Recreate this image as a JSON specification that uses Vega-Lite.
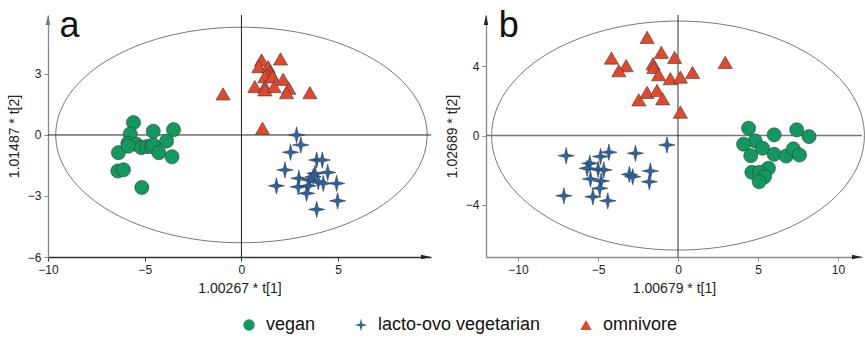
{
"$schema": "https://vega.github.io/schema/vega-lite/v6.json",
"background": "white",
"padding": {"left": 7, "top": 7, "right": 0, "bottom": 0},
"config": {
  "font": "Liberation Sans",
  "view": {"stroke": null},
  "axis": {"grid": false, "labelFont": "Liberation Sans", "labelFontSize": 12, "labelColor": "#222", "titleFont": "Liberation Sans", "titleFontSize": 14, "titleFontWeight": "normal", "titleColor": "#222", "tickSize": 4, "tickColor": "#555", "domainWidth": 1.3, "labelFlush": false, "labelPadding": 3, "titlePadding": 6}
},
"datasets": {
  "ellA": [
    {"i":0,"x":9.6,"y":0},{"i":1,"x":9.454,"y":0.92},{"i":2,"x":9.021,"y":1.813},{"i":3,"x":8.314,"y":2.65},{"i":4,"x":7.354,"y":3.407},{"i":5,"x":6.171,"y":4.06},{"i":6,"x":4.8,"y":4.59},{"i":7,"x":3.283,"y":4.98},{"i":8,"x":1.667,"y":5.219},{"i":9,"x":0,"y":5.3},
    {"i":10,"x":-1.667,"y":5.219},{"i":11,"x":-3.283,"y":4.98},{"i":12,"x":-4.8,"y":4.59},{"i":13,"x":-6.171,"y":4.06},{"i":14,"x":-7.354,"y":3.407},{"i":15,"x":-8.314,"y":2.65},{"i":16,"x":-9.021,"y":1.813},{"i":17,"x":-9.454,"y":0.92},{"i":18,"x":-9.6,"y":0},
    {"i":19,"x":-9.454,"y":-0.92},{"i":20,"x":-9.021,"y":-1.813},{"i":21,"x":-8.314,"y":-2.65},{"i":22,"x":-7.354,"y":-3.407},{"i":23,"x":-6.171,"y":-4.06},{"i":24,"x":-4.8,"y":-4.59},{"i":25,"x":-3.283,"y":-4.98},{"i":26,"x":-1.667,"y":-5.219},{"i":27,"x":0,"y":-5.3},
    {"i":28,"x":1.667,"y":-5.219},{"i":29,"x":3.283,"y":-4.98},{"i":30,"x":4.8,"y":-4.59},{"i":31,"x":6.171,"y":-4.06},{"i":32,"x":7.354,"y":-3.407},{"i":33,"x":8.314,"y":-2.65},{"i":34,"x":9.021,"y":-1.813},{"i":35,"x":9.454,"y":-0.92}
  ],
  "ellB": [
    {"i":0,"x":11.65,"y":0},{"i":1,"x":11.473,"y":1.146},{"i":2,"x":10.948,"y":2.257},{"i":3,"x":10.089,"y":3.3},{"i":4,"x":8.924,"y":4.242},{"i":5,"x":7.489,"y":5.056},{"i":6,"x":5.825,"y":5.716},{"i":7,"x":3.984,"y":6.202},{"i":8,"x":2.023,"y":6.5},{"i":9,"x":0,"y":6.6},
    {"i":10,"x":-2.023,"y":6.5},{"i":11,"x":-3.984,"y":6.202},{"i":12,"x":-5.825,"y":5.716},{"i":13,"x":-7.489,"y":5.056},{"i":14,"x":-8.924,"y":4.242},{"i":15,"x":-10.089,"y":3.3},{"i":16,"x":-10.948,"y":2.257},{"i":17,"x":-11.473,"y":1.146},{"i":18,"x":-11.65,"y":0},
    {"i":19,"x":-11.473,"y":-1.146},{"i":20,"x":-10.948,"y":-2.257},{"i":21,"x":-10.089,"y":-3.3},{"i":22,"x":-8.924,"y":-4.242},{"i":23,"x":-7.489,"y":-5.056},{"i":24,"x":-5.825,"y":-5.716},{"i":25,"x":-3.984,"y":-6.202},{"i":26,"x":-2.023,"y":-6.5},{"i":27,"x":0,"y":-6.6},
    {"i":28,"x":2.023,"y":-6.5},{"i":29,"x":3.984,"y":-6.202},{"i":30,"x":5.825,"y":-5.716},{"i":31,"x":7.489,"y":-5.056},{"i":32,"x":8.924,"y":-4.242},{"i":33,"x":10.089,"y":-3.3},{"i":34,"x":10.948,"y":-2.257},{"i":35,"x":11.473,"y":-1.146}
  ],
  "ptsA": [
    {"group":"vegan","x":-5.58,"y":0.61},{"group":"vegan","x":-5.75,"y":0.05},{"group":"vegan","x":-4.56,"y":0.18},{"group":"vegan","x":-3.51,"y":0.26},{"group":"vegan","x":-3.87,"y":-0.3},{"group":"vegan","x":-5.87,"y":-0.41},{"group":"vegan","x":-5.44,"y":-0.46},{"group":"vegan","x":-5.18,"y":-0.62},{"group":"vegan","x":-4.89,"y":-0.57},{"group":"vegan","x":-4.66,"y":-0.57},{"group":"vegan","x":-4.56,"y":-0.49},{"group":"vegan","x":-4.27,"y":-0.87},{"group":"vegan","x":-3.59,"y":-1.07},{"group":"vegan","x":-6.36,"y":-0.87},{"group":"vegan","x":-6.39,"y":-1.77},{"group":"vegan","x":-6.1,"y":-1.71},{"group":"vegan","x":-5.15,"y":-2.58},{"group":"vegan","x":-5.85,"y":-0.55},
    {"group":"lacto-ovo vegetarian","x":2.85,"y":0},{"group":"lacto-ovo vegetarian","x":3.07,"y":-0.49},{"group":"lacto-ovo vegetarian","x":2.54,"y":-0.85},{"group":"lacto-ovo vegetarian","x":3.89,"y":-1.23},{"group":"lacto-ovo vegetarian","x":4.18,"y":-1.23},{"group":"lacto-ovo vegetarian","x":2.25,"y":-1.72},{"group":"lacto-ovo vegetarian","x":4.46,"y":-1.84},{"group":"lacto-ovo vegetarian","x":3.8,"y":-1.89},{"group":"lacto-ovo vegetarian","x":3.71,"y":-2.05},{"group":"lacto-ovo vegetarian","x":2.97,"y":-2.13},{"group":"lacto-ovo vegetarian","x":3.54,"y":-2.22},{"group":"lacto-ovo vegetarian","x":3.97,"y":-2.3},{"group":"lacto-ovo vegetarian","x":4.23,"y":-2.38},{"group":"lacto-ovo vegetarian","x":4.92,"y":-2.38},{"group":"lacto-ovo vegetarian","x":1.81,"y":-2.5},{"group":"lacto-ovo vegetarian","x":2.94,"y":-2.55},{"group":"lacto-ovo vegetarian","x":3.45,"y":-2.5},{"group":"lacto-ovo vegetarian","x":3.37,"y":-2.87},{"group":"lacto-ovo vegetarian","x":4.97,"y":-3.24},{"group":"lacto-ovo vegetarian","x":3.89,"y":-3.66},
    {"group":"omnivore","x":1.04,"y":3.69},{"group":"omnivore","x":2.02,"y":3.74},{"group":"omnivore","x":0.9,"y":3.36},{"group":"omnivore","x":1.38,"y":3.36},{"group":"omnivore","x":1.47,"y":3.12},{"group":"omnivore","x":1.55,"y":2.99},{"group":"omnivore","x":1.3,"y":2.96},{"group":"omnivore","x":1.21,"y":2.87},{"group":"omnivore","x":1.61,"y":2.87},{"group":"omnivore","x":2.16,"y":2.74},{"group":"omnivore","x":0.69,"y":2.38},{"group":"omnivore","x":1.21,"y":2.38},{"group":"omnivore","x":1.21,"y":2.22},{"group":"omnivore","x":1.69,"y":2.38},{"group":"omnivore","x":2.45,"y":2.3},{"group":"omnivore","x":2.33,"y":2.08},{"group":"omnivore","x":3.54,"y":2.08},{"group":"omnivore","x":-0.95,"y":2.02},{"group":"omnivore","x":1.09,"y":0.33}
  ],
  "ptsB": [
    {"group":"vegan","x":4.41,"y":0.42},{"group":"vegan","x":7.42,"y":0.33},{"group":"vegan","x":6.01,"y":0.04},{"group":"vegan","x":8.19,"y":-0.06},{"group":"vegan","x":4.82,"y":-0.31},{"group":"vegan","x":4.1,"y":-0.5},{"group":"vegan","x":5.28,"y":-0.73},{"group":"vegan","x":4.55,"y":-1.16},{"group":"vegan","x":6.01,"y":-1.08},{"group":"vegan","x":6.76,"y":-1.18},{"group":"vegan","x":7.21,"y":-0.77},{"group":"vegan","x":7.59,"y":-1.12},{"group":"vegan","x":5.65,"y":-1.89},{"group":"vegan","x":4.62,"y":-2.12},{"group":"vegan","x":5.09,"y":-2.12},{"group":"vegan","x":5.41,"y":-2.37},{"group":"vegan","x":5.07,"y":-2.66},
    {"group":"lacto-ovo vegetarian","x":-0.69,"y":-0.54},{"group":"lacto-ovo vegetarian","x":-6.99,"y":-1.16},{"group":"lacto-ovo vegetarian","x":-4.32,"y":-0.96},{"group":"lacto-ovo vegetarian","x":-2.66,"y":-1.02},{"group":"lacto-ovo vegetarian","x":-4.84,"y":-1.21},{"group":"lacto-ovo vegetarian","x":-5.51,"y":-1.6},{"group":"lacto-ovo vegetarian","x":-5.68,"y":-1.89},{"group":"lacto-ovo vegetarian","x":-4.99,"y":-1.95},{"group":"lacto-ovo vegetarian","x":-4.64,"y":-1.98},{"group":"lacto-ovo vegetarian","x":-3.04,"y":-2.24},{"group":"lacto-ovo vegetarian","x":-2.83,"y":-2.37},{"group":"lacto-ovo vegetarian","x":-1.73,"y":-2.04},{"group":"lacto-ovo vegetarian","x":-5.47,"y":-2.5},{"group":"lacto-ovo vegetarian","x":-4.8,"y":-2.62},{"group":"lacto-ovo vegetarian","x":-4.89,"y":-3.04},{"group":"lacto-ovo vegetarian","x":-1.79,"y":-2.66},{"group":"lacto-ovo vegetarian","x":-7.13,"y":-3.47},{"group":"lacto-ovo vegetarian","x":-5.32,"y":-3.53},{"group":"lacto-ovo vegetarian","x":-4.39,"y":-3.76},
    {"group":"omnivore","x":-1.93,"y":5.66},{"group":"omnivore","x":-4.16,"y":4.47},{"group":"omnivore","x":-3.24,"y":4.03},{"group":"omnivore","x":-3.7,"y":3.74},{"group":"omnivore","x":-1.04,"y":4.8},{"group":"omnivore","x":-0.21,"y":4.51},{"group":"omnivore","x":-1.56,"y":4.14},{"group":"omnivore","x":-1.52,"y":3.93},{"group":"omnivore","x":-1.21,"y":3.51},{"group":"omnivore","x":-0.48,"y":3.28},{"group":"omnivore","x":0.15,"y":3.37},{"group":"omnivore","x":0.91,"y":3.64},{"group":"omnivore","x":2.95,"y":4.22},{"group":"omnivore","x":-1.93,"y":2.49},{"group":"omnivore","x":-2.45,"y":2.06},{"group":"omnivore","x":-1.31,"y":2.6},{"group":"omnivore","x":-0.96,"y":2.12},{"group":"omnivore","x":0.15,"y":1.35}
  ]
},
"spacing": 13,
"resolve": {"scale": {"color": "shared", "shape": "shared"}},
"hconcat": [
  {
    "width": 383, "height": 242,
    "layer": [
      {"data": {"name": "ellA"}, "mark": {"type": "line", "interpolate": "cardinal-closed", "tension": 0, "color": "#555", "strokeWidth": 0.8},
       "encoding": {
         "x": {"field": "x", "type": "quantitative", "scale": {"domain": [-10, 9.8], "nice": false, "zero": false}, "axis": {"values": [-10, -5, 0, 5], "title": "1.00267 * t[1]", "domainColor": "#333", "tickColor": "#333"}},
         "y": {"field": "y", "type": "quantitative", "scale": {"domain": [-6, 5.9], "nice": false, "zero": false}, "axis": {"values": [-6, -3, 0, 3], "title": "1.01487 * t[2]", "domainColor": "#888", "tickColor": "#888"}},
         "order": {"field": "i"}}},
      {"data": {"values": [{}]}, "mark": {"type": "rule", "color": "#222", "strokeWidth": 1}, "encoding": {"y": {"datum": 0}}},
      {"data": {"values": [{}]}, "mark": {"type": "rule", "color": "#222", "strokeWidth": 1}, "encoding": {"x": {"datum": 0}}},
      {"data": {"name": "ptsA"}, "mark": {"type": "point", "filled": true, "size": 200, "stroke": "#3a3a3a", "strokeWidth": 0.6, "opacity": 1},
       "encoding": {
         "x": {"field": "x", "type": "quantitative"},
         "y": {"field": "y", "type": "quantitative"},
         "color": {"field": "group", "type": "nominal", "scale": {"domain": ["vegan", "lacto-ovo vegetarian", "omnivore"], "range": ["#12995f", "#2166ae", "#e4482a"]},
           "legend": {"orient": "none", "direction": "horizontal", "legendX": 192, "legendY": 301, "title": null, "labelFontSize": 18, "labelFont": "Liberation Sans", "labelColor": "#111", "labelLimit": 400, "symbolSize": 130, "columnPadding": 36, "labelOffset": 8, "symbolStrokeWidth": 0}},
         "shape": {"field": "group", "type": "nominal", "scale": {"domain": ["vegan", "lacto-ovo vegetarian", "omnivore"], "range": ["circle", "M0,-1.15 L0.22,-0.22 L1.15,0 L0.22,0.22 L0,1.15 L-0.22,0.22 L-1.15,0 L-0.22,-0.22 Z", "triangle-up"]}}}},
      {"data": {"values": [{}]}, "mark": {"type": "point", "shape": "M0,0 L0.45,2 L-0.45,2 Z", "filled": true, "color": "#777", "size": 100, "opacity": 1}, "encoding": {"x": {"datum": -10}, "y": {"datum": 5.9}}},
      {"data": {"values": [{}]}, "mark": {"type": "point", "shape": "M0,0 L-2,-0.45 L-2,0.45 Z", "filled": true, "color": "#222", "size": 100, "opacity": 1}, "encoding": {"x": {"datum": 9.8}, "y": {"datum": -6}}},
      {"data": {"values": [{}]}, "mark": {"type": "text", "text": "a", "fontSize": 36, "align": "left", "baseline": "alphabetic", "font": "Liberation Sans", "color": "#111"}, "encoding": {"x": {"datum": -9.4}, "y": {"datum": 4.82}}}
    ]
  },
  {
    "width": 376, "height": 242,
    "layer": [
      {"data": {"name": "ellB"}, "mark": {"type": "line", "interpolate": "cardinal-closed", "tension": 0, "color": "#555", "strokeWidth": 0.8},
       "encoding": {
         "x": {"field": "x", "type": "quantitative", "scale": {"domain": [-12, 11.5], "nice": false, "zero": false}, "axis": {"values": [-10, -5, 0, 5, 10], "title": "1.00679 * t[1]", "domainColor": "#888", "tickColor": "#888"}},
         "y": {"field": "y", "type": "quantitative", "scale": {"domain": [-7, 6.95], "nice": false, "zero": false}, "axis": {"values": [-4, 0, 4], "title": "1.02689 * t[2]", "domainColor": "#888", "tickColor": "#888"}},
         "order": {"field": "i"}}},
      {"data": {"values": [{}]}, "mark": {"type": "rule", "color": "#777", "strokeWidth": 1.5}, "encoding": {"y": {"datum": 0}}},
      {"data": {"values": [{}]}, "mark": {"type": "rule", "color": "#333", "strokeWidth": 1}, "encoding": {"x": {"datum": 0}}},
      {"data": {"name": "ptsB"}, "mark": {"type": "point", "filled": true, "size": 200, "stroke": "#3a3a3a", "strokeWidth": 0.6, "opacity": 1},
       "encoding": {
         "x": {"field": "x", "type": "quantitative"},
         "y": {"field": "y", "type": "quantitative"},
         "color": {"field": "group", "type": "nominal"},
         "shape": {"field": "group", "type": "nominal"}}},
      {"data": {"values": [{}]}, "mark": {"type": "point", "shape": "M0,0 L0.45,2 L-0.45,2 Z", "filled": true, "color": "#222", "size": 100, "opacity": 1}, "encoding": {"x": {"datum": -12}, "y": {"datum": 6.95}}},
      {"data": {"values": [{}]}, "mark": {"type": "point", "shape": "M0,0 L-2,-0.45 L-2,0.45 Z", "filled": true, "color": "#222", "size": 100, "opacity": 1}, "encoding": {"x": {"datum": 11.5}, "y": {"datum": -7}}},
      {"data": {"values": [{}]}, "mark": {"type": "text", "text": "b", "fontSize": 36, "align": "left", "baseline": "alphabetic", "font": "Liberation Sans", "color": "#111"}, "encoding": {"x": {"datum": -11.2}, "y": {"datum": 5.68}}}
    ]
  }
]
}
